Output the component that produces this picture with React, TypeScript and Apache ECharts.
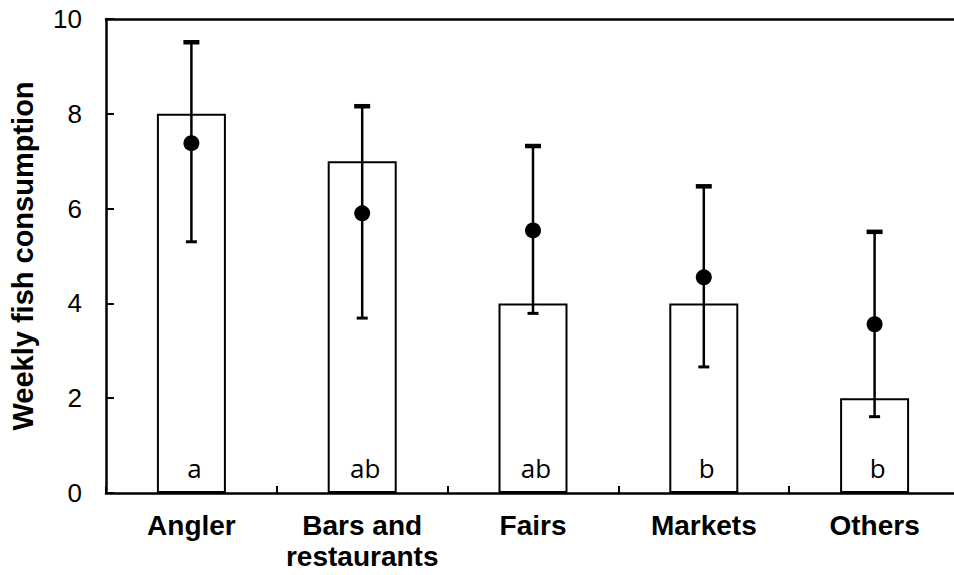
import React, { useEffect, useRef } from "react";
import * as echarts from "echarts";

const categories = ["Angler", "Bars and\nrestaurants", "Fairs", "Markets", "Others"];
const barValues = [8, 7, 4, 4, 2];
const meanValues = [7.38, 5.9, 5.54, 4.55, 3.56];
const lowerValues = [5.3, 3.69, 3.79, 2.66, 1.61];
const upperValues = [9.51, 8.16, 7.32, 6.47, 5.51];
const groupLetters = ["a", "ab", "ab", "b", "b"];
const yTicks = { min: 0, max: 10, interval: 2 };

export default function App() {
  const ref = useRef<HTMLDivElement>(null);
  useEffect(() => {
    if (!ref.current) return;
    const chart = echarts.init(ref.current, null, { renderer: "svg" });
    const errData = categories.map((_, i) => [i, lowerValues[i], upperValues[i]]);
    chart.setOption({
      animation: false,
      backgroundColor: "#ffffff",
      grid: { left: 105, right: 0, top: 19, bottom: 82, containLabel: false },
      xAxis: [
        {
          type: "category",
          data: categories,
          position: "bottom",
          boundaryGap: true,
          axisLine: { show: true, lineStyle: { color: "#000", width: 2.5 } },
          axisTick: { show: true, inside: true, length: 7, lineStyle: { color: "#000", width: 2 } },
          axisLabel: {
            color: "#000",
            fontFamily: "Liberation Sans",
            fontWeight: "bold",
            fontSize: 28,
            lineHeight: 31,
            margin: 17,
            interval: 0,
          },
        },
        {
          type: "category",
          data: categories,
          position: "top",
          axisLine: { show: true, lineStyle: { color: "#000", width: 2.5 } },
          axisTick: { show: false },
          axisLabel: { show: false },
        },
      ],
      yAxis: {
        type: "value",
        min: yTicks.min,
        max: yTicks.max,
        interval: yTicks.interval,
        name: "Weekly fish consumption",
        nameLocation: "middle",
        nameGap: 69,
        nameTextStyle: {
          color: "#000",
          fontFamily: "Liberation Sans",
          fontWeight: "bold",
          fontSize: 29,
        },
        splitLine: { show: false },
        axisLine: { show: true, lineStyle: { color: "#000", width: 2.5 } },
        axisTick: { show: true, inside: true, length: 8, lineStyle: { color: "#000", width: 2 } },
        axisLabel: {
          color: "#000",
          fontFamily: "Liberation Sans",
          fontSize: 26,
          margin: 24,
        },
      },
      series: [
        {
          type: "bar",
          data: barValues,
          barWidth: 69,
          itemStyle: { color: "#fff", borderColor: "#000", borderWidth: 2 },
          label: {
            show: true,
            position: "insideBottom",
            distance: 12,
            offset: [3, 0],
            color: "#000",
            fontFamily: "Open Sans",
            fontSize: 26,
            formatter: (p: any) => groupLetters[p.dataIndex],
          },
          z: 1,
        },
        {
          type: "custom",
          data: errData,
          z: 3,
          renderItem: (params: any, api: any) => {
            const x = api.value(0);
            const lo = api.coord([x, api.value(1)]);
            const hi = api.coord([x, api.value(2)]);
            return {
              type: "group",
              children: [
                {
                  type: "line",
                  shape: { x1: lo[0], y1: lo[1], x2: hi[0], y2: hi[1] },
                  style: { stroke: "#000", lineWidth: 2.5 },
                },
                {
                  type: "line",
                  shape: { x1: hi[0] - 8, y1: hi[1], x2: hi[0] + 8, y2: hi[1] },
                  style: { stroke: "#000", lineWidth: 4.5 },
                },
                {
                  type: "line",
                  shape: { x1: lo[0] - 5.5, y1: lo[1], x2: lo[0] + 5.5, y2: lo[1] },
                  style: { stroke: "#000", lineWidth: 3 },
                },
              ],
            };
          },
        },
        {
          type: "scatter",
          data: meanValues,
          symbol: "circle",
          symbolSize: 16,
          itemStyle: { color: "#000", opacity: 1 },
          z: 4,
        },
      ],
    });
    return () => chart.dispose();
  }, []);
  return (
    <div
      style={{ position: "absolute", left: 0, top: 0, width: 954, height: 575, overflow: "hidden" }}
    >
      <div ref={ref} style={{ width: 960, height: 575 }} />
    </div>
  );
}
